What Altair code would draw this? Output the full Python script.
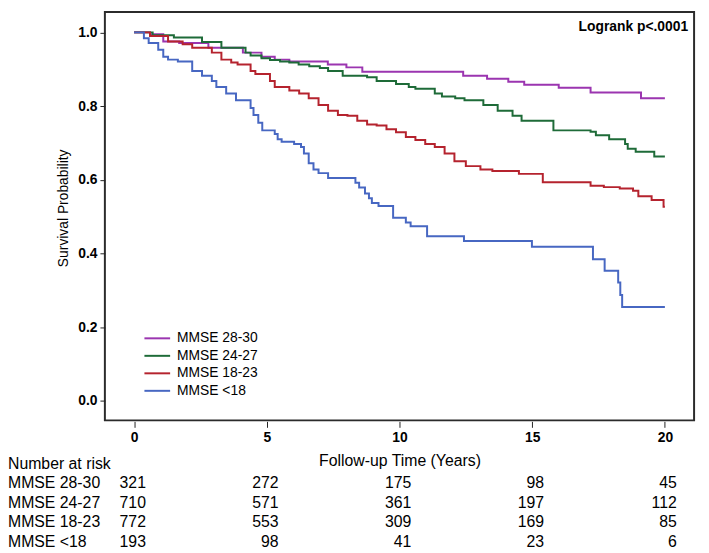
import altair as alt
import pandas as pd

groups = ["MMSE 28-30", "MMSE 24-27", "MMSE 18-23", "MMSE <18"]
colors = ["#9B35B0", "#1E6B38", "#B5232E", "#4767C2"]

t_28_30 = [0, 0.6, 1.1, 1.7, 2.8, 4.1, 4.8, 5.3, 5.85, 7.3, 8.0, 8.6, 12.4, 13.3, 14.1, 14.7, 16.0, 17.2, 19.1, 20.0]
s_28_30 = [1.0, 0.995, 0.975, 0.971, 0.958, 0.945, 0.934, 0.926, 0.921, 0.913, 0.905, 0.893, 0.882, 0.874, 0.866, 0.858, 0.85, 0.837, 0.821, 0.821]

t_24_27 = [0, 0.7, 1.5, 2.56, 3.29, 4.2, 4.39, 4.8, 5.12, 5.5, 5.85, 6.2, 6.6, 7.0, 7.31, 7.86, 8.78, 9.14, 9.87, 10.35,
           10.6, 11.33, 11.6, 12.1, 12.45, 13.16, 13.7, 14.26, 14.6, 15.8, 17.2, 17.4, 17.9, 18.5, 18.6, 18.9, 19.6, 20.0]
s_24_27 = [1.0, 0.992, 0.986, 0.974, 0.958, 0.945, 0.937, 0.93, 0.925, 0.921, 0.918, 0.913, 0.908, 0.903, 0.895, 0.882, 0.878, 0.868, 0.86, 0.852,
           0.847, 0.834, 0.826, 0.821, 0.816, 0.803, 0.787, 0.774, 0.76, 0.734, 0.73, 0.721, 0.71, 0.697, 0.684, 0.676, 0.663, 0.663]

t_18_23 = [0, 0.6, 1.28, 1.83, 2.19, 2.93, 3.29, 3.66, 3.9, 4.39, 4.57, 5.12, 5.3, 5.85, 6.22, 6.58, 6.95, 7.31, 7.68, 8.04,
           8.41, 8.78, 9.14, 9.51, 9.87, 10.24, 10.6, 10.97, 11.33, 11.7, 12.07, 12.5, 13.05, 13.5, 14.5, 15.4, 17.2, 17.7, 18.3, 18.8,
           19.0, 19.5, 19.95, 20.0]
s_18_23 = [1.0, 0.99, 0.975, 0.968, 0.958, 0.945, 0.926, 0.918, 0.913, 0.895, 0.887, 0.868, 0.852, 0.842, 0.834, 0.821, 0.803, 0.787, 0.776, 0.774,
           0.76, 0.75, 0.747, 0.737, 0.729, 0.716, 0.708, 0.697, 0.689, 0.671, 0.65, 0.637, 0.628, 0.624, 0.616, 0.593, 0.584, 0.58, 0.576, 0.57,
           0.555, 0.545, 0.527, 0.527]

t_lt18 = [0, 0.37, 0.55, 0.91, 1.1, 1.28, 1.65, 2.19, 2.56, 2.93, 3.1, 3.47, 3.84, 4.39, 4.5, 4.68, 4.83, 5.3, 5.41, 5.56,
          6.03, 6.29, 6.4, 6.58, 6.76, 6.95, 7.31, 8.34, 8.48, 8.7, 8.85, 8.96, 9.21, 9.76, 10.24, 10.42, 11.04, 12.43, 14.99, 17.29,
          17.73, 18.24, 18.32, 18.39, 20.0]
s_lt18 = [1.0, 0.984, 0.971, 0.953, 0.934, 0.926, 0.921, 0.895, 0.882, 0.868, 0.852, 0.834, 0.816, 0.795, 0.776, 0.755, 0.734, 0.724, 0.71, 0.703,
          0.697, 0.689, 0.671, 0.645, 0.628, 0.618, 0.605, 0.592, 0.579, 0.563, 0.55, 0.537, 0.529, 0.497, 0.484, 0.474, 0.447, 0.434, 0.418, 0.384,
          0.353, 0.321, 0.287, 0.255, 0.255]

risk_times = [0, 5, 10, 15, 20]
risk_28_30 = [321, 272, 175, 98, 45]
risk_24_27 = [710, 571, 361, 197, 112]
risk_18_23 = [772, 553, 309, 169, 85]
risk_lt18 = [193, 98, 41, 23, 6]

table_header = "Number at risk"
logrank_text = "Logrank p<.0001"
x_ticks = [0, 5, 10, 15, 20]
y_ticks = [0.0, 0.2, 0.4, 0.6, 0.8, 1.0]

# ---- build tables ----
curves = [(t_28_30, s_28_30), (t_24_27, s_24_27), (t_18_23, s_18_23), (t_lt18, s_lt18)]
km_rows = []
for g, (ts, ss) in zip(groups, curves):
    for t, s in zip(ts, ss):
        km_rows.append({"group": g, "time": t, "surv": s})
df_km = pd.DataFrame(km_rows)

risks = [risk_28_30, risk_24_27, risk_18_23, risk_lt18]
risk_rows = []
for g, ns in zip(groups, risks):
    for t, n in zip(risk_times, ns):
        risk_rows.append({"row": g, "time": t, "n": n})
df_risk = pd.DataFrame(risk_rows)

row_names = [table_header] + groups
df_rowlab = pd.DataFrame({"row": row_names})

W, H = 596, 413
FONT = "Liberation Sans"

xscale = alt.Scale(domain=[-1.1, 21.1], nice=False, zero=False)
yscale = alt.Scale(domain=[-0.053, 1.055], nice=False, zero=False)
rowscale = alt.Scale(domain=row_names, range=[457, 536], padding=0)

lines = alt.Chart(df_km).mark_line(interpolate="step-after", strokeWidth=2).encode(
    x=alt.X("time:Q", scale=xscale,
            axis=alt.Axis(values=x_ticks, title="Follow-up Time (Years)", offset=1, tickSize=6,
                          labelPadding=3, labelFontWeight="bold", labelFontSize=14,
                          titleFontSize=16, titleFontWeight="normal", titleY=40,
                          titleBaseline="middle")),
    y=alt.Y("surv:Q", scale=yscale,
            axis=alt.Axis(values=y_ticks, format=".1f", title="Survival Probability", tickSize=5,
                          labelPadding=3, labelFontWeight="bold", labelFontSize=14,
                          titleFontSize=14, titleFontWeight="normal", titleX=-42, titleY=198,
                          titleAlign="center", titleBaseline="middle")),
    color=alt.Color("group:N", scale=alt.Scale(domain=groups, range=colors),
                    legend=alt.Legend(title=None, orient="none", legendX=45.5, legendY=322.5,
                                      symbolType="M-2,0H2", symbolSize=169, symbolStrokeWidth=2,
                                      labelFontSize=14, labelOffset=12.5, rowPadding=2.7,
                                      padding=0, labelLimit=300, labelColor="black")),
)

table = alt.Chart(df_risk).mark_text(align="right", baseline="middle", fontSize=16, dx=12,
                                      color="black").encode(
    x=alt.X("time:Q", scale=xscale, title="Follow-up Time (Years)"),
    y=alt.Y("row:N", scale=rowscale, axis=None),
    text="n:Q",
)

row_labels = alt.Chart(df_rowlab).mark_text(align="left", baseline="middle", fontSize=16, x=-98,
                                            color="black").encode(
    y=alt.Y("row:N", scale=rowscale, axis=None),
    text="row:N",
)

logrank = alt.Chart(pd.DataFrame({"label": [logrank_text]})).mark_text(
    align="right", baseline="middle", fontSize=14, fontWeight="bold", x=W - 6, y=15, color="black"
).encode(text="label:N")

chart = alt.layer(lines, table, row_labels, logrank).resolve_scale(y="independent").properties(
    width=W, height=H,
    autosize=alt.AutoSizeParams(type="none"),
    padding={"left": 98, "top": 1, "right": 7, "bottom": 131},
).configure(font=FONT).configure_view(stroke="#2b2b2b", strokeWidth=2).configure_axis(
    tickColor="#222222", labelColor="black", titleColor="black", domain=False, grid=False
)

chart.save("out.html", embed_options={"renderer": "svg", "actions": False})
